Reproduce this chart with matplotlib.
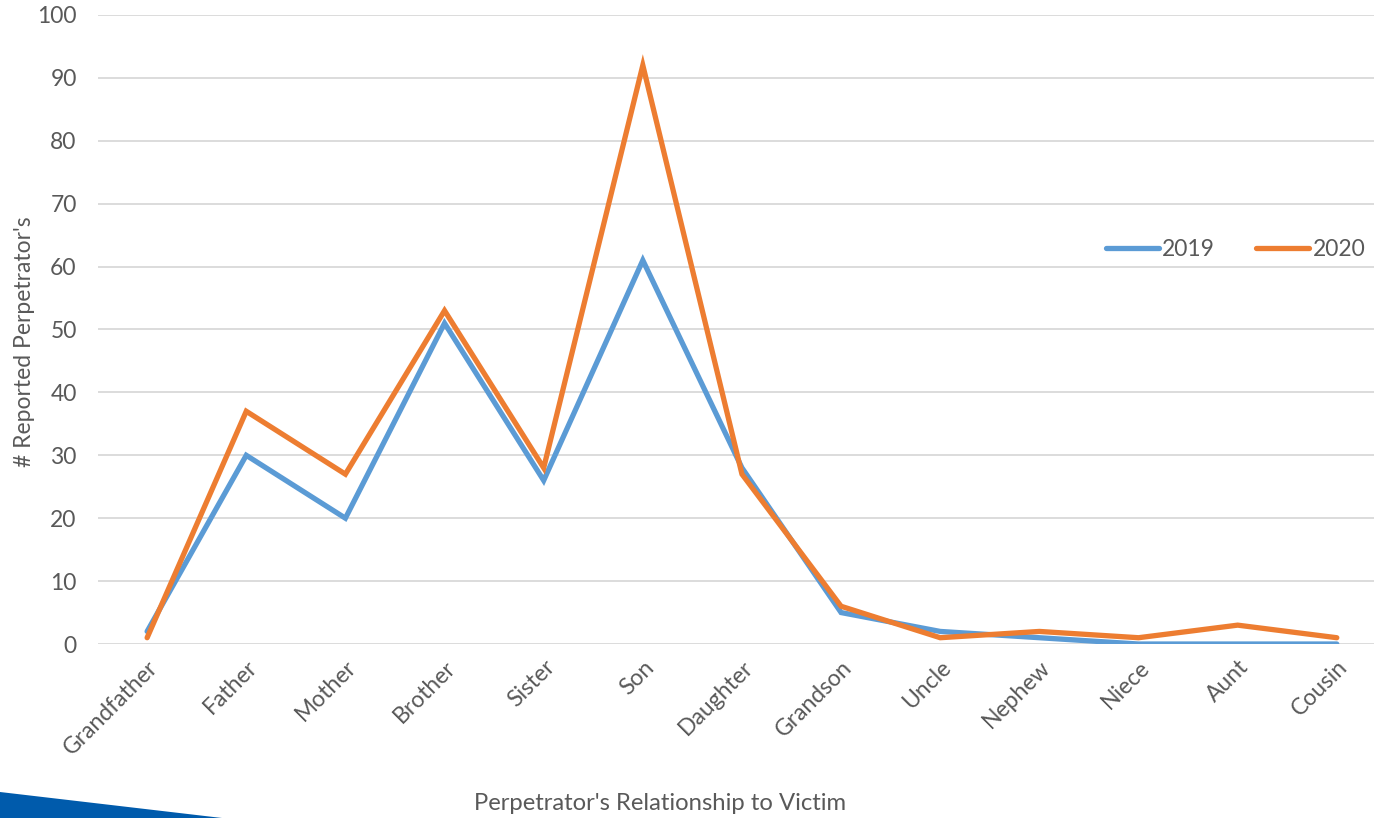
import matplotlib.pyplot as plt
from matplotlib.patches import Polygon

# relationship categories and yearly counts
relationships = ['Grandfather', 'Father', 'Mother', 'Brother', 'Sister', 'Son',
                 'Daughter', 'Grandson', 'Uncle', 'Nephew', 'Niece', 'Aunt', 'Cousin']
counts_2019 = [2, 30, 20, 51, 26, 61, 28, 5, 2, 1, 0, 0, 0]
counts_2020 = [1, 37, 27, 53, 28, 92, 27, 6, 1, 2, 1, 3, 1]

plt.rcParams['font.family'] = ['Lato', 'DejaVu Sans']
text_col = '#595959'
fs = 16.5

fig = plt.figure(figsize=(13.74, 8.18), dpi=100)
ax = fig.add_axes([0.071, 0.2127, 0.938, 0.769])

x = list(range(len(relationships)))
ax.plot(x, counts_2019, color='#5B9BD5', lw=3.8, solid_capstyle='round',
        solid_joinstyle='miter', label='2019', zorder=3)
ax.plot(x, counts_2020, color='#ED7D31', lw=3.8, solid_capstyle='round',
        solid_joinstyle='miter', label='2020', zorder=4)

ax.set_xlim(-0.5, len(relationships) - 0.5)
ax.set_ylim(0, 100)
ax.set_yticks(range(0, 101, 10))
ax.yaxis.grid(True, color='#D9D9D9', lw=1.3)
ax.set_axisbelow(True)
for s in ax.spines.values():
    s.set_visible(False)
ax.tick_params(length=0, labelsize=fs, labelcolor=text_col)
ax.tick_params(axis='y', pad=15)
ax.set_xticks(x)
ax.set_xticklabels(relationships, rotation=45, ha='right', va='top',
                   rotation_mode='anchor')
ax.tick_params(axis='x', pad=9)

# label's right edge sits a little left of the tick numbers
ax.set_ylabel("# Reported Perpetrator's", fontsize=fs, color=text_col)
ax.yaxis.set_label_coords(-0.0485, 0.481)
fig.text(660 / 1374, 1 - 803 / 818, "Perpetrator's Relationship to Victim",
         fontsize=17.2, color=text_col, ha='center', va='center')

handles, labels = ax.get_legend_handles_labels()
leg = fig.legend(handles, labels, loc='center left',
                 bbox_to_anchor=(1106 / 1374, 1 - 250 / 818), ncol=2,
                 frameon=False, fontsize=fs, handlelength=2.3,
                 handletextpad=0.15, columnspacing=1.8,
                 borderpad=0, borderaxespad=0)
for t in leg.get_texts():
    t.set_color(text_col)

# blue corner band at the bottom left
fig.patches.append(Polygon([(0, 0), (0, 26 / 818), (222 / 1374, 0)], closed=True,
                           transform=fig.transFigure, facecolor='#005BAC',
                           edgecolor='none'))

fig.savefig('out.png', dpi=100)
